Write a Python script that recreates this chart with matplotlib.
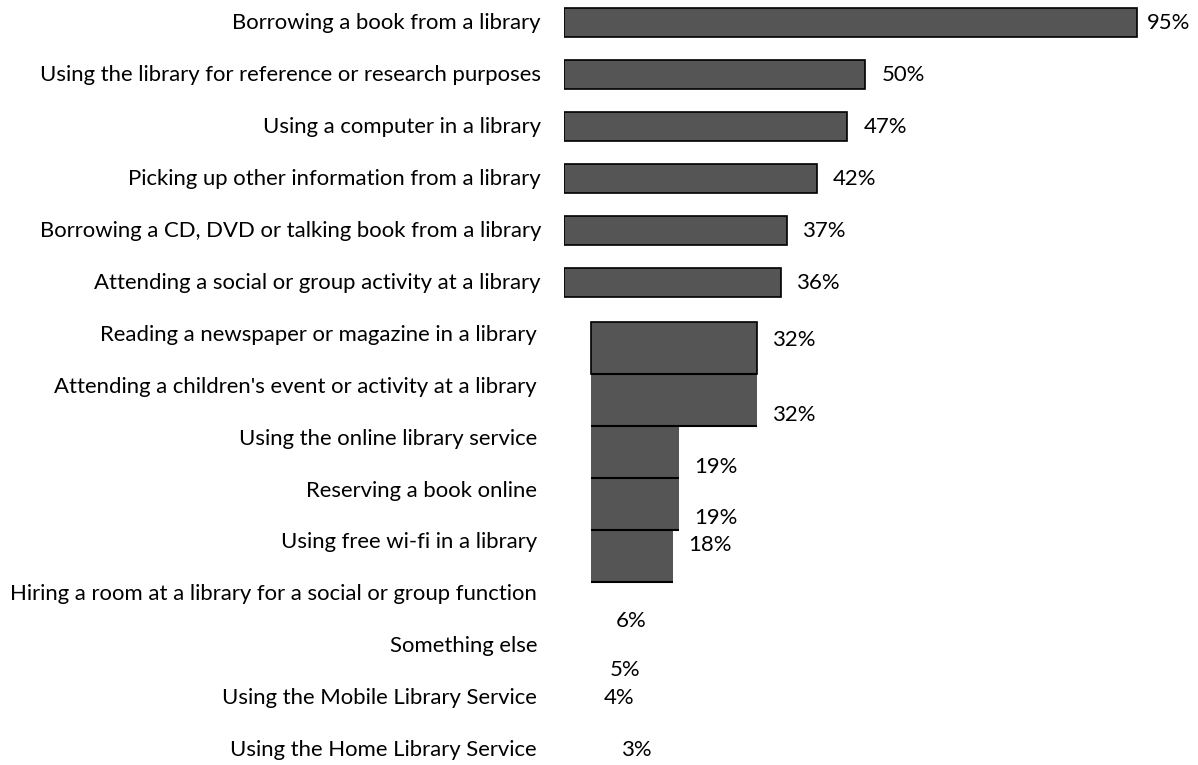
import matplotlib
matplotlib.use("Agg")
import matplotlib.pyplot as plt
import matplotlib.transforms as mtransforms

# survey data (percent of respondents)
activities = [
    "Borrowing a book from a library",
    "Using the library for reference or research purposes",
    "Using a computer in a library",
    "Picking up other information from a library",
    "Borrowing a CD, DVD or talking book from a library",
    "Attending a social or group activity at a library",
    "Reading a newspaper or magazine in a library",
    "Attending a children's event or activity at a library",
    "Using the online library service",
    "Reserving a book online",
    "Using free wi-fi in a library",
    "Hiring a room at a library for a social or group function",
    "Something else",
    "Using the Mobile Library Service",
    "Using the Home Library Service",
]
values = [95, 50, 47, 42, 37, 36, 32, 32, 19, 19, 18, 6, 5, 4, 3]

# the lower part of the original chart rendered as merged blocks
n_normal = 6
block_rows = [6, 7, 8, 9, 10]
block_start = 4.5
label_shift = [0, 0, 0, 0, 0, 0, 0.1, 0.55, 0.55, 0.53, 0.05, 0.51, 0.45, 0, 0]
label_nudge = [-6, 0, 0, 0, 0, 0, 0, 0, 0, 0, 0, 0, 0, 0, 24]

plt.rcParams['font.family'] = ['Lato', 'DejaVu Sans']
FS = 15.9

fig = plt.figure(figsize=(11.98, 7.65), dpi=100)
ax = fig.add_axes([564 / 1198, 0, 633 / 1198, 1])
bar_color = '#555555'

rows = list(range(len(activities)))

# normal bars
ax.barh(rows[:n_normal], values[:n_normal], height=0.56, left=0,
        color=bar_color, edgecolor='black', linewidth=1.2)

# merged blocks
for k, i in enumerate(block_rows):
    ax.barh(i - 0.25, values[i] - block_start, height=1.0, left=block_start,
            align='edge', color=bar_color,
            edgecolor='black' if k == 0 else 'none', linewidth=1.2)
    ax.hlines(i + 0.75, block_start, values[i], color='black', linewidth=1.5)

# value labels
for i, v in enumerate(values):
    offset = mtransforms.offset_copy(ax.transData, fig=fig, x=16 + label_nudge[i],
                                     y=0, units='dots')
    ax.text(v, i + label_shift[i], f"{v}%", transform=offset,
            ha='left', va='center', fontsize=FS, color='black', clip_on=False)

# category labels
lab_tr = mtransforms.blended_transform_factory(ax.transAxes, ax.transData)
for i, name in enumerate(activities):
    dx = -23 if i < n_normal else -27
    tr = mtransforms.offset_copy(lab_tr, fig=fig, x=dx, y=0, units='dots')
    ax.text(0, i, name, transform=tr, ha='right', va='center',
            fontsize=FS, color='black', clip_on=False)

ax.set_xlim(0, 105)
ax.set_ylim(14 + 14.5 / 52, -22.5 / 52)
ax.axis('off')

fig.savefig('out.png', dpi=100)
